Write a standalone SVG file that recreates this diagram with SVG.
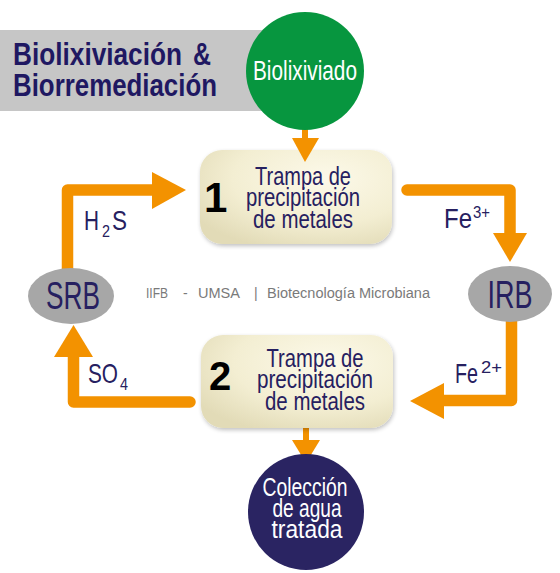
<svg xmlns="http://www.w3.org/2000/svg" width="560" height="573" viewBox="0 0 560 573">
<defs>
<radialGradient id="cream" cx="0.65" cy="0.3" r="0.8">
<stop offset="0" stop-color="#fcf9e9"/>
<stop offset="0.6" stop-color="#f3eed2"/>
<stop offset="1" stop-color="#e2dbb7"/>
</radialGradient>
<filter id="sh" x="-10%" y="-10%" width="130%" height="130%">
<feGaussianBlur in="SourceAlpha" stdDeviation="2"/>
<feOffset dx="1" dy="2"/>
<feComponentTransfer><feFuncA type="linear" slope="0.25"/></feComponentTransfer>
<feMerge><feMergeNode/><feMergeNode in="SourceGraphic"/></feMerge>
</filter>
</defs>
<style>
.t{font-family:"Liberation Sans Narrow","Liberation Sans",Arial,sans-serif;}
.navy{fill:#262060;}
.white{fill:#ffffff;}
.title{font-weight:bold;font-size:32px;fill:#1f1862;}
.body{font-size:26px;}
.num{font-family:"Liberation Sans",Arial,sans-serif;font-weight:bold;fill:#000;}
.lbl{font-size:28px;}
.sup{font-size:17px;}
.ell{fill:#a7a7a7;}
.box{fill:url(#cream);}
.arr{fill:none;stroke:#f39200;stroke-width:11.5;stroke-linejoin:round;stroke-linecap:round;}
.arrT{fill:none;stroke:#f39200;stroke-width:6;}
.head{fill:#f39200;}
.gray{font-size:14px;fill:#7a7a7a;}
</style>
<rect x="0" y="30" width="270" height="81" fill="#c6c6c6"/>
<g id="title">
<text class="t title" x="13" y="65" textLength="169" lengthAdjust="spacingAndGlyphs">Biolixiviación</text>
<text class="t title" x="193" y="65" textLength="18" lengthAdjust="spacingAndGlyphs">&amp;</text>
<text class="t title" x="13" y="96" textLength="204" lengthAdjust="spacingAndGlyphs">Biorremediación</text>
</g>
<g id="connectors">
<path class="arrT" d="M305,120 V140"/>
<path class="arr" d="M67.5,280 V190 H152"/>
<polygon class="head" points="152,172 152,209 186,190"/>
<path class="arr" d="M407,190 H510 V234"/>
<polygon class="head" points="493,233 527,233 510,262"/>
<path class="arr" d="M511.5,310 V400.5 H444"/>
<polygon class="head" points="444,383 444,419 410,401"/>
<path class="arr" d="M190,402 H73.5 V356"/>
<polygon class="head" points="54,357 93,357 73.5,325"/>
<path class="arrT" d="M306,425 V441"/>
<polygon class="head" points="292,440 320,440 306,463"/>
</g>
<g id="biolixiviado">
<circle cx="305" cy="71" r="59" fill="#07963f"/>
<text class="t white" x="305" y="80" font-size="28" text-anchor="middle" textLength="104" lengthAdjust="spacingAndGlyphs">Biolixiviado</text>
</g>
<g id="trampa1" filter="url(#sh)">
<rect class="box" x="200" y="150" width="192" height="94" rx="22"/>
</g>
<polygon class="head" points="292,138 319,138 305,162"/>
<g id="trampa1-text">
<text class="num" x="204" y="212" font-size="42">1</text>
<text class="t navy body" x="303" y="185" text-anchor="middle" textLength="96" lengthAdjust="spacingAndGlyphs">Trampa de</text>
<text class="t navy body" x="303" y="206" text-anchor="middle" textLength="114" lengthAdjust="spacingAndGlyphs">precipitación</text>
<text class="t navy body" x="303" y="228" text-anchor="middle" textLength="100" lengthAdjust="spacingAndGlyphs">de metales</text>
</g>
<g id="trampa2" filter="url(#sh)">
<rect class="box" x="201" y="335" width="192" height="93" rx="22"/>
</g>
<g id="trampa2-text">
<text class="num" x="209" y="390" font-size="40">2</text>
<text class="t navy body" x="315" y="367" text-anchor="middle" textLength="97" lengthAdjust="spacingAndGlyphs">Trampa de</text>
<text class="t navy body" x="315" y="388" text-anchor="middle" textLength="116" lengthAdjust="spacingAndGlyphs">precipitación</text>
<text class="t navy body" x="315" y="410" text-anchor="middle" textLength="100" lengthAdjust="spacingAndGlyphs">de metales</text>
</g>
<g id="coleccion">
<circle cx="306" cy="512" r="58" fill="#2a2462"/>
<text class="t white body" x="305" y="496" text-anchor="middle" textLength="85" lengthAdjust="spacingAndGlyphs">Colección</text>
<text class="t white body" x="307" y="517" text-anchor="middle" textLength="69" lengthAdjust="spacingAndGlyphs">de agua</text>
<text class="t white body" x="307" y="538" text-anchor="middle" textLength="71" lengthAdjust="spacingAndGlyphs">tratada</text>
</g>
<g id="srb">
<ellipse class="ell" cx="71" cy="296" rx="43" ry="28"/>
<text class="t navy" x="73" y="309" font-size="39" text-anchor="middle" textLength="54" lengthAdjust="spacingAndGlyphs">SRB</text>
</g>
<g id="irb">
<ellipse class="ell" cx="510" cy="294" rx="42" ry="28"/>
<text class="t navy" x="510" y="308" font-size="39" text-anchor="middle" textLength="45" lengthAdjust="spacingAndGlyphs">IRB</text>
</g>
<g id="labels">
<text class="t navy lbl" x="84" y="230" textLength="15" lengthAdjust="spacingAndGlyphs">H</text>
<text class="t navy sup" x="102" y="237" textLength="8" lengthAdjust="spacingAndGlyphs">2</text>
<text class="t navy lbl" x="112" y="230" textLength="15" lengthAdjust="spacingAndGlyphs">S</text>
<text class="t navy lbl" x="88" y="383" textLength="30" lengthAdjust="spacingAndGlyphs">SO</text>
<text class="t navy sup" x="120" y="390" textLength="8" lengthAdjust="spacingAndGlyphs">4</text>
<text class="t navy lbl" x="444" y="228" textLength="28" lengthAdjust="spacingAndGlyphs">Fe</text>
<text class="t navy sup" x="473" y="218" textLength="17" lengthAdjust="spacingAndGlyphs">3+</text>
<text class="t navy lbl" x="455" y="383" textLength="23" lengthAdjust="spacingAndGlyphs">Fe</text>
<text class="t navy sup" x="481" y="373" textLength="21" lengthAdjust="spacingAndGlyphs">2+</text>
</g>
<g id="credit">
<text class="t gray" x="146" y="298" textLength="22" lengthAdjust="spacingAndGlyphs">IIFB</text>
<text class="t gray" x="183" y="298">-</text>
<text class="t gray" x="198" y="298" textLength="42" lengthAdjust="spacingAndGlyphs">UMSA</text>
<text class="t gray" x="254" y="298">|</text>
<text class="t gray" x="267" y="298" textLength="163" lengthAdjust="spacingAndGlyphs">Biotecnología Microbiana</text>
</g>
</svg>
